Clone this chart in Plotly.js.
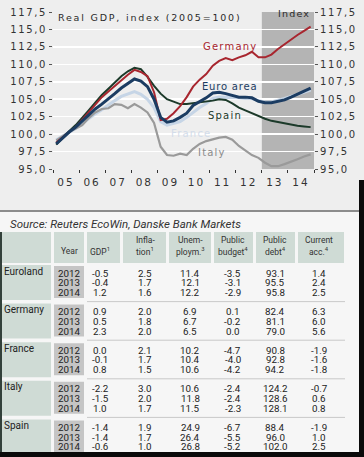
<!DOCTYPE html>
<html><head><meta charset="utf-8">
<script src="https://cdn.plot.ly/plotly-3.0.1.min.js"></script>
<style>html,body{margin:0;padding:0;background:#f6f6f6;}#chart{width:364px;height:457px;}</style>
</head><body><div id="chart"></div>
<script>
// ---- chart data (real GDP, index 2005=100, quarterly 2005Q1-2014Q4) ----
const years = [2005,2006,2007,2008,2009,2010,2011,2012,2013,2014];
const quarters = [1,2,3,4];
const germany = [98.8,99.6,100.3,101.0, 102.1,103.2,104.3,105.3, 106.1,106.9,107.8,108.5, 109.2,108.9,108.3,106.0, 102.0,102.2,103.0,104.0, 105.3,106.8,107.8,108.6, 109.8,110.5,110.9,110.6, 111.0,111.3,111.8,111.0, 111.0,111.4,112.2,112.9, 113.6,114.2,114.8,115.4];
const euroArea = [98.6,99.5,100.3,101.0, 101.9,102.8,103.6,104.3, 105.0,105.8,106.6,107.3, 107.9,107.6,106.8,105.0, 102.4,101.7,101.9,102.4, 103.0,104.1,104.6,105.2, 105.9,106.0,105.8,105.5, 105.3,105.3,105.2,104.7, 104.5,104.5,104.7,104.9, 105.3,105.7,106.1,106.6];
const spain = [98.5,99.5,100.4,101.3, 102.3,103.4,104.5,105.6, 106.5,107.4,108.3,109.0, 109.5,109.3,108.2,106.9, 105.8,105.0,104.6,104.3, 104.3,104.4,104.5,104.6, 104.8,105.0,104.9,104.4, 103.8,103.4,103.0,102.5, 102.2,101.9,101.7,101.5, 101.4,101.2,101.1,101.0];
const france = [99.2,99.7,100.3,100.8, 101.5,102.2,102.9,103.5, 104.2,104.8,105.4,105.8, 106.1,105.7,105.0,103.8, 101.8,101.3,101.5,101.8, 102.4,103.1,103.8,104.4, 105.1,105.3,105.3,105.3, 105.2,105.1,105.1,104.8, 104.6,104.6,104.8,105.1, 105.4,105.7,106.0,106.3];
const italy = [99.1,99.7,100.3,100.8, 101.3,102.3,103.1,103.6, 103.7,104.3,104.2,103.7, 104.3,103.8,103.1,101.6, 98.2,97.0,96.9,97.2, 97.0,97.9,98.6,99.0, 99.3,99.5,99.6,99.2, 98.3,97.6,97.0,96.6, 95.9,95.4,95.4,95.7, 96.0,96.4,96.8,97.1];
const yTicks = [95,97.5,100,102.5,105,107.5,110,112.5,115,117.5];
const forecastStart = '2013-01-01', forecastEnd = '2015-01-01';

// ---- table data ----
const tableYears = ['2012','2013','2014'];
const countries = ['Euroland','Germany','France','Italy','Spain'];
const headTop = ['', '', '', 'Infla-', 'Unem-', 'Public', 'Public', 'Current'];
const headBottom = ['', 'Year', 'GDP<sup>1</sup>', 'tion<sup>1</sup>', 'ploym.<sup>3</sup>', 'budget<sup>4</sup>', 'debt<sup>4</sup>', 'acc.<sup>4</sup>'];
const gdp = [[-0.5,-0.4,1.2],[0.9,0.5,2.3],[0.0,-0.1,0.8],[-2.2,-1.5,1.0],[-1.4,-1.4,-0.6]];
const inflation = [[2.5,1.7,1.6],[2.0,1.8,2.0],[2.1,1.7,1.5],[3.0,2.0,1.7],[1.9,1.7,1.0]];
const unemployment = [[11.4,12.1,12.2],[6.9,6.7,6.5],[10.2,10.4,10.6],[10.6,11.8,11.5],[24.9,26.4,26.8]];
const publicBudget = [[-3.5,-3.1,-2.9],[0.1,-0.2,0.0],[-4.7,-4.0,-4.2],[-2.4,-2.4,-2.3],[-6.7,-5.5,-5.2]];
const publicDebt = [[93.1,95.5,95.8],[82.4,81.1,79.0],[90.8,92.8,94.2],[124.2,128.6,128.1],[88.4,96.0,102.0]];
const currentAcc = [[1.4,2.4,2.5],[6.3,6.0,5.6],[-1.9,-1.6,-1.8],[-0.7,0.6,0.8],[-1.9,1.0,2.5]];

// ---- helpers ----
const W = 364, H = 457;
const px = x => x / W, py = y => 1 - y / H;
const dates = [];
years.forEach(y => quarters.forEach(q => {
  const m = 3 * q - 1;
  dates.push(y + '-' + (m < 10 ? '0' + m : m) + '-15');
}));
const sp = (t, ls) => '<span style="letter-spacing:' + ls + 'px">' + t + '</span>';
const fmtTick = v => sp(v.toFixed(1).replace('.', ','), 1.6);

const traces = [];
function line(y, color, width, axis) {
  traces.push({type:'scatter', mode:'lines', x:dates, y:y, yaxis:axis||'y',
    line:{color:color, width:width, shape:'linear'}, hoverinfo:'skip', showlegend:false});
}
line(france, '#c6d5e6', 3);
line(italy, '#9a9a9a', 2.2);
line(spain, '#1c3a2a', 2);
line(germany, '#a8262f', 2);
line(euroArea, '#1b3c62', 3);
// carrier for the right-hand axis
traces.push({type:'scatter', mode:'lines', x:dates, y:euroArea, yaxis:'y2', opacity:0,
  line:{width:0}, hoverinfo:'skip', showlegend:false});

const shapes = [];
function rect(x0, y0, x1, y1, color) {
  shapes.push({type:'rect', xref:'paper', yref:'paper', x0:px(x0), x1:px(x1), y0:py(y1), y1:py(y0),
    fillcolor:color, line:{width:0}, layer:'below'});
}
function hline(x0, x1, y, color, w) {
  shapes.push({type:'line', xref:'paper', yref:'paper', x0:px(x0), x1:px(x1), y0:py(y), y1:py(y),
    line:{color:color, width:w}, layer:'below'});
}
// backgrounds
rect(0, 0, W, 211, '#eeeeee');
hline(0, 359, 211, '#8c8c8c', 2);
// forecast shading
shapes.push({type:'rect', xref:'x', yref:'y domain', x0:forecastStart, x1:forecastEnd, y0:0, y1:1,
  fillcolor:'#b4b4b4', line:{width:0}, layer:'below'});

const annotations = [];
function ann(text, x, y, o) {
  o = o || {};
  annotations.push({text:text, xref:'paper', yref:'paper', x:px(x), y:py(y), showarrow:false,
    xanchor:o.xa||'center', yanchor:'middle', align:o.xa||'center', borderpad:0,
    font:{family:o.family||'DejaVu Sans', size:o.size||10, color:o.color||'#333'}});
}
// chart texts
ann(sp('Real GDP, index (2005=100)', 1.8), 57, 18, {xa:'left', color:'#2a2a2a', size:9.5});
ann(sp('Index', 1.2), 311, 13, {xa:'right', color:'#2a2a2a', size:9.5});
ann(sp('Germany', 1.2), 230, 46, {color:'#a8262f'});
ann(sp('Euro area', 0.8), 229, 86, {color:'#1b3c62'});
ann(sp('Spain', 1.2), 225, 116, {color:'#1c3a2a'});
ann(sp('France', 1.2), 191, 133, {color:'#d2dcea'});
ann(sp('Italy', 1.2), 212, 152, {color:'#8a8a8a'});
// source
ann('<i>Source: Reuters EcoWin, Danske Bank Markets</i>', 9, 224, {xa:'left', family:'Roboto', size:11.5, color:'#333'});

// ---- table ----
const colCells = [[2,51],[54,84],[87,120],[123,166],[169,211],[214,253],[256,295],[298,344]];
const colCenters = [26,69,100,145,190,233,275,319];
const hdrTop = 232, hdrBot = 263;
colCells.forEach(c => rect(c[0], hdrTop, c[1], hdrBot, '#cfdbd5'));
headTop.forEach((t, k) => { if (t) ann(t, colCenters[k], 240, {family:'Roboto', size:8.5}); });
headBottom.forEach((t, k) => { if (t) ann(t, colCenters[k], 251, {family:'Roboto', size:8.5}); });
const rowStart = 267, rowStep = 38.6, lineStep = 9.7;
const columns = [gdp, inflation, unemployment, publicBudget, publicDebt, currentAcc];
countries.forEach((name, i) => {
  const gs = rowStart + i * rowStep;
  rect(2, gs - 2, 51, gs + 33, '#cfdbd5');
  rect(54, gs - 1, 84, gs + 31, '#c5c5c5');
  if (i > 0) hline(87, 345, gs - 4, '#c9c9c9', 1);
  ann(name, 3, gs + 4, {xa:'left', family:'Roboto', size:10, color:'#222'});
  tableYears.forEach((yr, j) => {
    const yy = gs + 6 + j * lineStep;
    ann(yr, colCenters[1], yy, {family:'Roboto', size:9.8, color:'#222'});
    columns.forEach((col, k) => ann(col[i][j].toFixed(1), colCenters[k + 2], yy, {family:'Roboto', size:9.8, color:'#222'}));
  });
});
// frame strips
rect(0, 232, 2, 452, '#33413b');
rect(359, 180, W, H, '#0a0a0a');
rect(0, 452, W, H, '#0a0a0a');

const yaxisBase = {range:[95,117.5], tickmode:'array', tickvals:yTicks, ticktext:yTicks.map(fmtTick),
  ticks:'outside', ticklen:3, tickcolor:'#555', tickfont:{family:'DejaVu Sans', size:10, color:'#333'},
  zeroline:false, showline:false, fixedrange:true, domain:[py(169), py(12)]};

const layout = {
  width:W, height:H, margin:{l:0, r:0, t:0, b:0}, paper_bgcolor:'#f6f6f6', plot_bgcolor:'rgba(0,0,0,0)',
  showlegend:false, hovermode:false,
  xaxis:{type:'date', range:['2005-01-01','2015-01-01'], tick0:'2005-01-01', dtick:'M12', tickformat:'%y',
    ticklabelmode:'period', ticks:'outside', ticklen:3, tickcolor:'#333', showgrid:false, zeroline:false,
    showline:false, tickprefix:'<span style="letter-spacing:2px">', ticksuffix:'</span>',
    tickfont:{family:'DejaVu Sans', size:10.5, color:'#333'}, domain:[px(53), px(314)], fixedrange:true},
  yaxis:Object.assign({}, yaxisBase, {side:'left', showgrid:true, gridcolor:'#ffffff', gridwidth:1.5}),
  yaxis2:Object.assign({}, yaxisBase, {side:'right', overlaying:'y', showgrid:false}),
  shapes:shapes, annotations:annotations
};
Plotly.newPlot('chart', traces, layout, {staticPlot:true, displayModeBar:false});
</script></body></html>
